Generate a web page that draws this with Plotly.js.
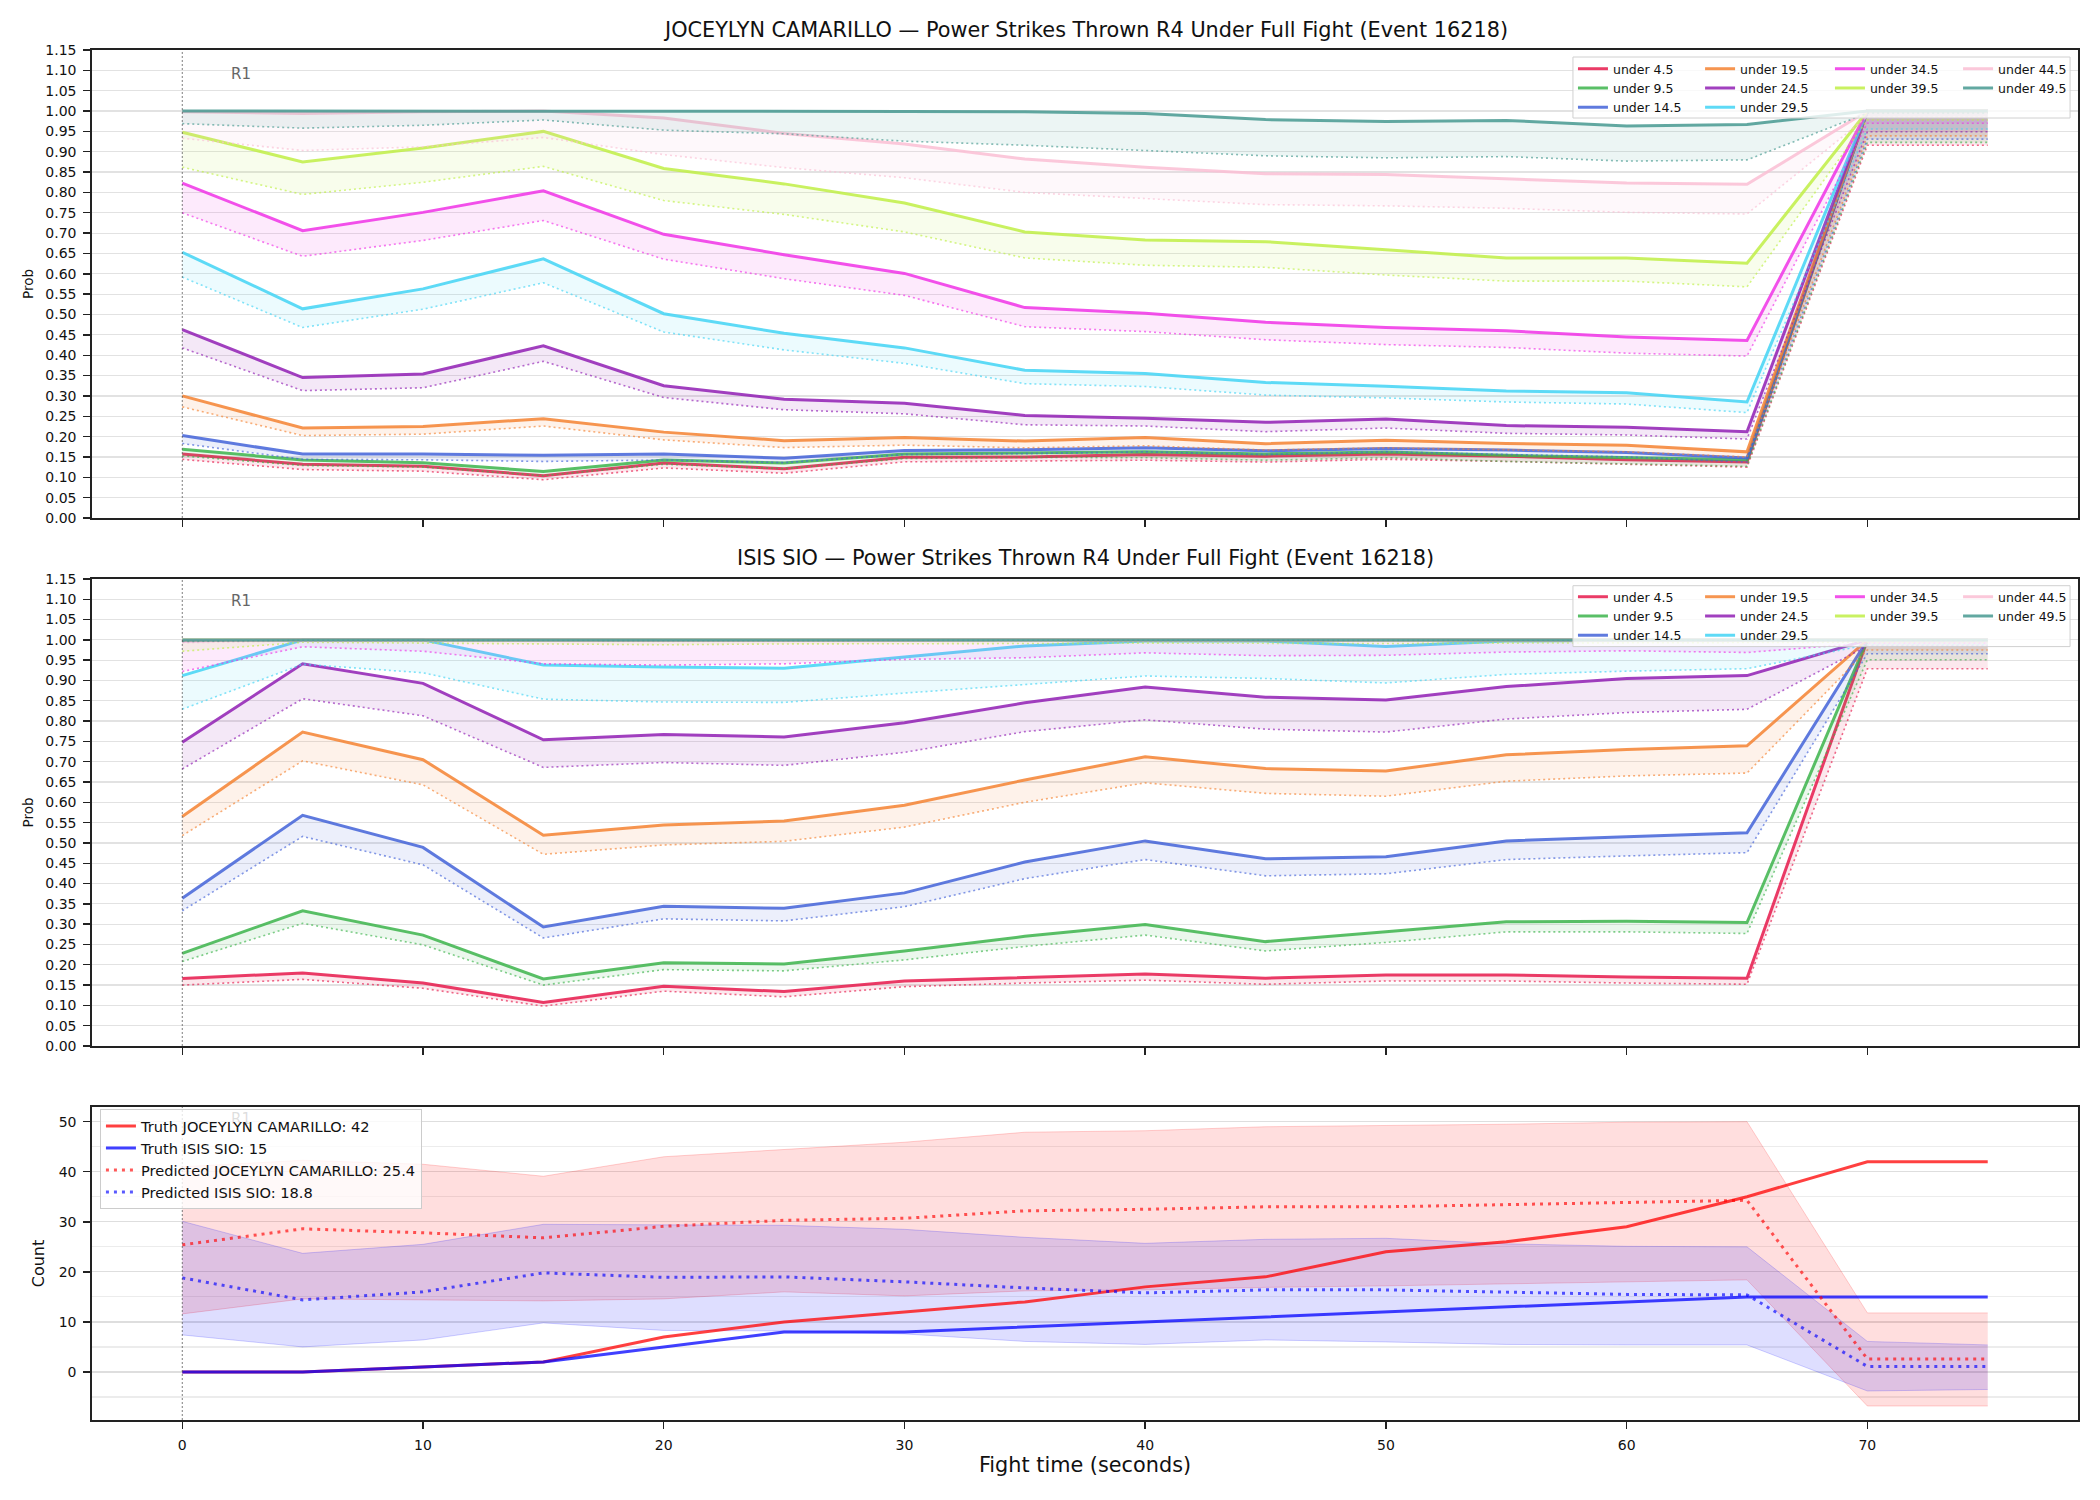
<!DOCTYPE html>
<html>
<head>
<meta charset="utf-8">
<script src="https://cdn.plot.ly/plotly-3.0.1.min.js"></script>
<style>html,body{margin:0;padding:0;background:#fff}#chart{width:2100px;height:1500px}</style>
</head>
<body>
<div id="chart"></div>
<script>
// ---------------- DATA ----------------
const times = [0, 5, 10, 15, 20, 25, 30, 35, 40, 45, 50, 55, 60, 65, 70, 75];
const thresholdLabels = ['under 4.5', 'under 9.5', 'under 14.5', 'under 19.5', 'under 24.5',
                         'under 29.5', 'under 34.5', 'under 39.5', 'under 44.5', 'under 49.5'];
const fighterA = 'JOCEYLYN CAMARILLO';
const fighterB = 'ISIS SIO';
const titleSuffix = 'Power Strikes Thrown R4 Under Full Fight (Event 16218)';
const roundStarts = [0];
const roundLabels = ['R1'];
const xTicks = [0, 10, 20, 30, 40, 50, 60, 70];

// JOCEYLYN CAMARILLO: solid (upper) and dotted (lower) probability per threshold
const jcUnder4_5    = [0.157, 0.132, 0.127, 0.104, 0.135, 0.121, 0.149, 0.150, 0.156, 0.152, 0.1575, 0.152, 0.143, 0.1375, 1.0, 1.0];
const jcUnder4_5Lo  = [0.144, 0.119, 0.115, 0.094, 0.123, 0.110, 0.138, 0.140, 0.142, 0.1375, 0.144, 0.139, 0.132, 0.125, 0.916, 0.916];
const jcUnder9_5    = [0.169, 0.1425, 0.136, 0.114, 0.1425, 0.135, 0.157, 0.160, 0.1625, 0.1575, 0.162, 0.154, 0.148, 0.143, 1.0, 1.0];
const jcUnder9_5Lo  = [0.1525, 0.129, 0.125, 0.104, 0.132, 0.121, 0.146, 0.149, 0.148, 0.142, 0.148, 0.139, 0.133, 0.127, 0.923, 0.923];
const jcUnder14_5   = [0.2025, 0.157, 0.157, 0.154, 0.157, 0.147, 0.166, 0.1675, 0.1725, 0.165, 0.171, 0.167, 0.161, 0.1475, 1.0, 1.0];
const jcUnder14_5Lo = [0.183, 0.144, 0.143, 0.139, 0.1425, 0.136, 0.156, 0.158, 0.1625, 0.156, 0.1625, 0.156, 0.150, 0.1375, 0.931, 0.931];
const jcUnder19_5   = [0.300, 0.221, 0.225, 0.244, 0.211, 0.190, 0.1975, 0.189, 0.1975, 0.1825, 0.191, 0.183, 0.179, 0.1625, 1.0, 1.0];
const jcUnder19_5Lo = [0.273, 0.2025, 0.206, 0.226, 0.192, 0.173, 0.179, 0.1725, 0.1775, 0.167, 0.1725, 0.1675, 0.1625, 0.150, 0.939, 0.939];
const jcUnder24_5   = [0.463, 0.345, 0.354, 0.423, 0.325, 0.292, 0.282, 0.252, 0.245, 0.235, 0.243, 0.227, 0.223, 0.212, 1.0, 1.0];
const jcUnder24_5Lo = [0.418, 0.313, 0.320, 0.385, 0.296, 0.266, 0.256, 0.229, 0.226, 0.212, 0.221, 0.208, 0.204, 0.194, 0.949, 0.949];
const jcUnder29_5   = [0.653, 0.514, 0.563, 0.637, 0.502, 0.454, 0.418, 0.363, 0.355, 0.333, 0.324, 0.312, 0.308, 0.285, 1.0, 1.0];
const jcUnder29_5Lo = [0.592, 0.468, 0.513, 0.578, 0.457, 0.413, 0.380, 0.330, 0.323, 0.302, 0.295, 0.285, 0.280, 0.259, 0.956, 0.956];
const jcUnder34_5   = [0.823, 0.706, 0.751, 0.804, 0.697, 0.647, 0.601, 0.517, 0.503, 0.481, 0.468, 0.460, 0.445, 0.436, 1.0, 1.0];
const jcUnder34_5Lo = [0.750, 0.643, 0.682, 0.731, 0.636, 0.588, 0.547, 0.470, 0.458, 0.438, 0.426, 0.419, 0.405, 0.398, 0.970, 0.970];
const jcUnder39_5   = [0.948, 0.875, 0.909, 0.950, 0.859, 0.821, 0.774, 0.703, 0.683, 0.679, 0.659, 0.639, 0.639, 0.626, 1.0, 1.0];
const jcUnder39_5Lo = [0.862, 0.795, 0.825, 0.864, 0.780, 0.746, 0.703, 0.639, 0.621, 0.616, 0.597, 0.582, 0.582, 0.568, 0.978, 0.978];
const jcUnder44_5   = [0.998, 0.994, 0.998, 1.0, 0.983, 0.945, 0.919, 0.882, 0.862, 0.846, 0.844, 0.833, 0.823, 0.820, 1.0, 1.0];
const jcUnder44_5Lo = [0.933, 0.903, 0.912, 0.935, 0.893, 0.861, 0.836, 0.800, 0.785, 0.770, 0.767, 0.761, 0.751, 0.747, 0.986, 0.986];
const jcUnder49_5   = [1.0, 1.0, 1.0, 1.0, 1.0, 0.999, 0.999, 0.998, 0.994, 0.979, 0.974, 0.977, 0.963, 0.967, 1.0, 1.0];
const jcUnder49_5Lo = [0.969, 0.958, 0.965, 0.978, 0.953, 0.944, 0.926, 0.916, 0.903, 0.890, 0.885, 0.888, 0.877, 0.880, 0.995, 0.995];

// ISIS SIO
const isUnder4_5    = [0.166, 0.180, 0.155, 0.107, 0.147, 0.134, 0.160, 0.169, 0.177, 0.167, 0.175, 0.175, 0.170, 0.167, 1.0, 1.0];
const isUnder4_5Lo  = [0.150, 0.164, 0.142, 0.098, 0.135, 0.121, 0.146, 0.155, 0.162, 0.152, 0.160, 0.160, 0.155, 0.152, 0.929, 0.929];
const isUnder9_5    = [0.228, 0.333, 0.273, 0.165, 0.205, 0.202, 0.234, 0.270, 0.299, 0.257, 0.281, 0.306, 0.307, 0.304, 1.0, 1.0];
const isUnder9_5Lo  = [0.208, 0.302, 0.249, 0.150, 0.188, 0.185, 0.212, 0.245, 0.273, 0.234, 0.255, 0.281, 0.281, 0.277, 0.951, 0.951];
const isUnder14_5   = [0.364, 0.568, 0.489, 0.293, 0.344, 0.339, 0.377, 0.453, 0.505, 0.461, 0.466, 0.505, 0.515, 0.525, 1.0, 1.0];
const isUnder14_5Lo = [0.333, 0.516, 0.446, 0.266, 0.313, 0.308, 0.343, 0.412, 0.459, 0.419, 0.424, 0.459, 0.468, 0.476, 0.966, 0.966];
const isUnder19_5   = [0.565, 0.773, 0.705, 0.519, 0.544, 0.554, 0.593, 0.655, 0.712, 0.683, 0.677, 0.717, 0.730, 0.739, 1.0, 1.0];
const isUnder19_5Lo = [0.518, 0.702, 0.643, 0.472, 0.495, 0.504, 0.539, 0.600, 0.648, 0.622, 0.615, 0.652, 0.665, 0.672, 0.975, 0.975];
const isUnder24_5   = [0.748, 0.941, 0.893, 0.754, 0.767, 0.761, 0.796, 0.845, 0.884, 0.859, 0.852, 0.885, 0.905, 0.912, 1.0, 1.0];
const isUnder24_5Lo = [0.682, 0.855, 0.813, 0.686, 0.698, 0.691, 0.723, 0.774, 0.803, 0.780, 0.773, 0.805, 0.821, 0.829, 0.985, 0.985];
const isUnder29_5   = [0.912, 1.0, 1.0, 0.938, 0.933, 0.930, 0.958, 0.985, 0.997, 0.997, 0.984, 0.997, 0.999, 0.999, 1.0, 1.0];
const isUnder29_5Lo = [0.829, 0.940, 0.919, 0.854, 0.847, 0.846, 0.869, 0.890, 0.911, 0.905, 0.894, 0.915, 0.923, 0.929, 0.988, 0.988];
const isUnder34_5   = [0.998, 1.0, 1.0, 0.999, 0.999, 0.999, 1.0, 1.0, 1.0, 1.0, 1.0, 1.0, 1.0, 1.0, 1.0, 1.0];
const isUnder34_5Lo = [0.922, 0.983, 0.972, 0.941, 0.938, 0.941, 0.952, 0.956, 0.968, 0.961, 0.962, 0.970, 0.973, 0.969, 0.992, 0.992];
const isUnder39_5   = [1.0, 1.0, 1.0, 1.0, 1.0, 1.0, 1.0, 1.0, 1.0, 1.0, 1.0, 1.0, 1.0, 1.0, 1.0, 1.0];
const isUnder39_5Lo = [0.972, 0.994, 0.992, 0.990, 0.988, 0.990, 0.990, 0.991, 0.992, 0.991, 0.991, 0.992, 0.993, 0.993, 0.995, 0.995];
const isUnder44_5   = [1.0, 1.0, 1.0, 1.0, 1.0, 1.0, 1.0, 1.0, 1.0, 1.0, 1.0, 1.0, 1.0, 1.0, 1.0, 1.0];
const isUnder44_5Lo = [0.993, 0.997, 0.997, 0.996, 0.996, 0.996, 0.997, 0.997, 0.997, 0.997, 0.997, 0.997, 0.998, 0.998, 0.997, 0.997];
const isUnder49_5   = [1.0, 1.0, 1.0, 1.0, 1.0, 1.0, 1.0, 1.0, 1.0, 1.0, 1.0, 1.0, 1.0, 1.0, 1.0, 1.0];
const isUnder49_5Lo = [0.996, 0.999, 0.999, 0.998, 0.998, 0.998, 0.999, 0.999, 0.999, 0.999, 0.999, 0.999, 0.999, 0.999, 0.998, 0.998];

// Counts
const truthA  = [0, 0, 1, 2, 7, 10, 12, 14, 17, 19, 24, 26, 29, 35, 42, 42];
const truthB  = [0, 0, 1, 2, 5, 8, 8, 9, 10, 11, 12, 13, 14, 15, 15, 15];
const predA   = [25.4, 28.6, 27.8, 26.8, 29.1, 30.3, 30.7, 32.2, 32.5, 33.0, 33.0, 33.4, 33.9, 34.3, 2.6, 2.6];
const predB   = [18.8, 14.4, 16.0, 19.8, 18.9, 19.0, 18.0, 16.8, 15.8, 16.4, 16.4, 15.9, 15.5, 15.4, 1.1, 1.1];
const bandAHi = [41.0, 42.3, 41.5, 39.1, 43.0, 44.5, 45.9, 47.9, 48.2, 49.0, 49.2, 49.5, 49.9, 50.0, 11.8, 11.8];
const bandALo = [11.6, 14.6, 14.4, 14.2, 14.6, 16.0, 15.2, 16.2, 16.4, 16.9, 17.2, 17.6, 17.9, 18.4, -6.8, -6.8];
const bandBHi = [30.1, 23.7, 25.5, 29.5, 29.4, 29.3, 28.5, 26.9, 25.7, 26.5, 26.7, 25.6, 25.1, 25.0, 6.1, 5.4];
const bandBLo = [7.4, 5.0, 6.4, 9.8, 8.3, 8.2, 7.6, 6.1, 5.5, 6.4, 6.0, 5.5, 5.4, 5.4, -3.8, -3.5];

// ---------------- STYLE ----------------
const palette = ['#e6194B', '#3cb44b', '#4363d8', '#f58231', '#911eb4',
                 '#42d4f4', '#f032e6', '#bfef45', '#fabed4', '#469990'];
const legendColumnOf = [0, 0, 0, 1, 1, 1, 2, 2, 3, 3];
const FONT = 'DejaVu Sans, Liberation Sans, sans-serif';

function rgba(hex, a) {
  const n = parseInt(hex.slice(1), 16);
  return `rgba(${(n >> 16) & 255},${(n >> 8) & 255},${n & 255},${a})`;
}

const jcHigh = [jcUnder4_5, jcUnder9_5, jcUnder14_5, jcUnder19_5, jcUnder24_5, jcUnder29_5, jcUnder34_5, jcUnder39_5, jcUnder44_5, jcUnder49_5];
const jcLow  = [jcUnder4_5Lo, jcUnder9_5Lo, jcUnder14_5Lo, jcUnder19_5Lo, jcUnder24_5Lo, jcUnder29_5Lo, jcUnder34_5Lo, jcUnder39_5Lo, jcUnder44_5Lo, jcUnder49_5Lo];
const isHigh = [isUnder4_5, isUnder9_5, isUnder14_5, isUnder19_5, isUnder24_5, isUnder29_5, isUnder34_5, isUnder39_5, isUnder44_5, isUnder49_5];
const isLow  = [isUnder4_5Lo, isUnder9_5Lo, isUnder14_5Lo, isUnder19_5Lo, isUnder24_5Lo, isUnder29_5Lo, isUnder34_5Lo, isUnder39_5Lo, isUnder44_5Lo, isUnder49_5Lo];

const traces = [];
function addThresholdBands(hiList, loList, xa, ya, legendIds) {
  hiList.forEach((hi, i) => {
    const c = palette[i];
    traces.push({x: times, y: loList[i], xaxis: xa, yaxis: ya, mode: 'lines',
      line: {color: rgba(c, 0.65), width: 1.6, dash: '2px,3px'}, showlegend: false, hoverinfo: 'skip'});
    traces.push({x: times, y: hi, xaxis: xa, yaxis: ya, mode: 'lines',
      line: {color: rgba(c, 0), width: 0}, fill: 'tonexty', fillcolor: rgba(c, 0.1),
      showlegend: false, hoverinfo: 'skip'});
    traces.push({x: times, y: hi, xaxis: xa, yaxis: ya, mode: 'lines', name: thresholdLabels[i],
      line: {color: rgba(c, 0.85), width: 3}, legend: legendIds[legendColumnOf[i]], showlegend: true});
  });
}
addThresholdBands(jcHigh, jcLow, 'x', 'y', ['legend2', 'legend3', 'legend4', 'legend5']);
addThresholdBands(isHigh, isLow, 'x2', 'y2', ['legend6', 'legend7', 'legend8', 'legend9']);

// Count panel
function addBand(lo, hi, col) {
  traces.push({x: times, y: lo, xaxis: 'x3', yaxis: 'y3', mode: 'lines',
    line: {color: `rgba(${col},0.18)`, width: 1}, showlegend: false, hoverinfo: 'skip'});
  traces.push({x: times, y: hi, xaxis: 'x3', yaxis: 'y3', mode: 'lines', fill: 'tonexty',
    fillcolor: `rgba(${col},0.13)`, line: {color: `rgba(${col},0.18)`, width: 1}, showlegend: false, hoverinfo: 'skip'});
}
addBand(bandALo, bandAHi, '255,0,0');
addBand(bandBLo, bandBHi, '0,0,255');
traces.push({x: times, y: truthA, xaxis: 'x3', yaxis: 'y3', mode: 'lines',
  name: `Truth ${fighterA}: ${truthA[truthA.length - 1]}`, line: {color: 'rgba(255,0,0,0.75)', width: 3}, legend: 'legend'});
traces.push({x: times, y: truthB, xaxis: 'x3', yaxis: 'y3', mode: 'lines',
  name: `Truth ${fighterB}: ${truthB[truthB.length - 1]}`, line: {color: 'rgba(0,0,255,0.75)', width: 3}, legend: 'legend'});
traces.push({x: times, y: predA, xaxis: 'x3', yaxis: 'y3', mode: 'lines',
  name: `Predicted ${fighterA}: ${predA[0].toFixed(1)}`, line: {color: 'rgba(255,0,0,0.65)', width: 3, dash: '3px,5px'}, legend: 'legend'});
traces.push({x: times, y: predB, xaxis: 'x3', yaxis: 'y3', mode: 'lines',
  name: `Predicted ${fighterB}: ${predB[0].toFixed(1)}`, line: {color: 'rgba(0,0,255,0.65)', width: 3, dash: '3px,5px'}, legend: 'legend'});

// ---------------- LAYOUT ----------------
const axisLine = {showline: true, mirror: true, linecolor: '#222', linewidth: 1.7, zeroline: false,
  ticks: 'outside', ticklen: 7, tickwidth: 1.4, tickcolor: '#222'};
const xBase = Object.assign({}, axisLine, {range: [-3.75, 78.75], tickvals: xTicks, showgrid: false,
  tickfont: {family: FONT, size: 14, color: '#111'}});
const probY = Object.assign({}, axisLine, {range: [0, 1.15], dtick: 0.05, tick0: 0, tickformat: '.2f',
  showgrid: true, gridcolor: '#e2e2e2', gridwidth: 1.2, tickfont: {family: FONT, size: 14, color: '#111'},
  ticklabelstandoff: 4,
  title: {text: 'Prob', font: {family: FONT, size: 13.5, color: '#111'}, standoff: 8}});

const legendCols = [0.7457, 0.8097, 0.8751, 0.9396];
const legCommon = {bgcolor: 'rgba(0,0,0,0)', borderwidth: 0, xanchor: 'left', yanchor: 'top',
  font: {family: FONT, size: 12.5, color: '#111'}, traceorder: 'normal'};
const layout = {
  width: 2100, height: 1500,
  paper_bgcolor: '#fff', plot_bgcolor: '#fff',
  font: {family: FONT, color: '#111'},
  margin: {l: 92, r: 22, t: 50, b: 80, autoexpand: false},
  xaxis: Object.assign({}, xBase, {anchor: 'y', domain: [0, 1], showticklabels: false}),
  xaxis2: Object.assign({}, xBase, {anchor: 'y2', domain: [0, 1], showticklabels: false}),
  xaxis3: Object.assign({}, xBase, {anchor: 'y3', domain: [0, 1], showticklabels: true, ticklabelstandoff: 4,
    title: {text: 'Fight time (seconds)', font: {family: FONT, size: 20.8, color: '#111'}, standoff: 6}}),
  yaxis: Object.assign({}, probY, {anchor: 'x', domain: [0.6584, 1]}),
  yaxis2: Object.assign({}, probY, {anchor: 'x2', domain: [0.2730, 0.6139]}),
  yaxis3: Object.assign({}, axisLine, {anchor: 'x3', domain: [0, 0.2285], range: [-9.6, 52.95],
    dtick: 10, tick0: 0, showgrid: true, gridcolor: '#dedede', gridwidth: 1.2,
    minor: {dtick: 5, tick0: 0, showgrid: true, gridcolor: '#ececec', gridwidth: 1.2, ticks: ''},
    tickfont: {family: FONT, size: 14, color: '#111'}, ticklabelstandoff: 4,
    title: {text: 'Count', font: {family: FONT, size: 16, color: '#111'}, standoff: 10}}),
  legend: {x: 0.004, y: 0.227, xanchor: 'left', yanchor: 'top', bgcolor: 'rgba(255,255,255,0.8)',
    bordercolor: '#cccccc', borderwidth: 1, font: {family: FONT, size: 14.6, color: '#111'}, traceorder: 'normal'},
  shapes: [],
  annotations: [
    {text: `${fighterA} — ${titleSuffix}`, xref: 'paper', yref: 'paper', x: 0.5, y: 1.0146,
      xanchor: 'center', yanchor: 'middle', showarrow: false, font: {family: FONT, size: 20.8, color: '#111'}},
    {text: `${fighterB} — ${titleSuffix}`, xref: 'paper', yref: 'paper', x: 0.5, y: 0.6292,
      xanchor: 'center', yanchor: 'middle', showarrow: false, font: {family: FONT, size: 20.8, color: '#111'}}
  ]
};
// multi-column legends for the two probability panels
for (let p = 0; p < 2; p++) {
  const yTop = p === 0 ? 0.9970 : 0.6116;
  legendCols.forEach((lx, k) => {
    layout['legend' + (2 + p * 4 + k)] = Object.assign({}, legCommon, {x: lx, y: yTop});
  });
}
// legend background boxes (drawn as shapes, legends themselves are transparent)
[[0.99489, 0.95036], [0.60898, 0.56453]].forEach(([y1, y0]) => {
  layout.shapes.push({type: 'rect', xref: 'paper', yref: 'paper', x0: 0.7457, x1: 0.9960, y0: y0, y1: y1,
    layer: 'above', fillcolor: 'rgba(255,255,255,0.8)', line: {color: '#d0d0d0', width: 1}});
});
// round markers
[['x', 'y', -24, '#666'], ['x2', 'y2', -22, '#666'], ['x3', 'y3', -12.4, 'rgba(102,102,102,0.22)']].forEach(([xa, ya, ys, col]) => {
  roundStarts.forEach((rs, r) => {
    layout.shapes.push({type: 'line', xref: xa, yref: ya + ' domain', x0: rs, x1: rs, y0: 0, y1: 1,
      layer: 'above', line: {color: 'rgba(70,70,70,0.7)', width: 1, dash: '2px,2px'}});
    layout.annotations.push({text: roundLabels[r], xref: xa, yref: ya + ' domain', x: rs, y: 1,
      xanchor: 'left', yanchor: 'middle', xshift: 47, yshift: ys, showarrow: false,
      font: {family: FONT, size: 15, color: col}});
  });
});

Plotly.newPlot('chart', traces, layout, {staticPlot: true, displayModeBar: false});
</script>
</body>
</html>
